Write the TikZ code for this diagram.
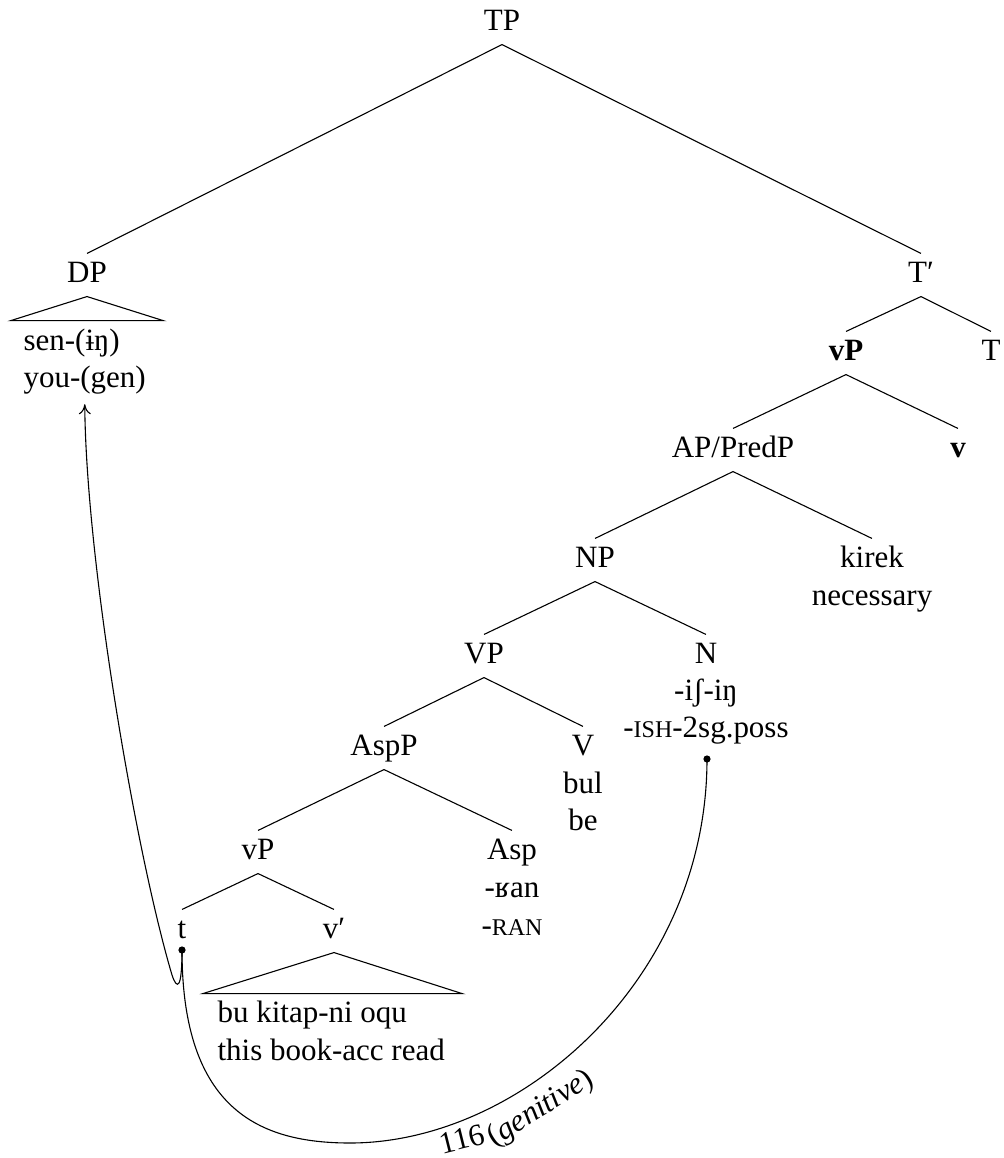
\documentclass[tikz,border=0pt]{standalone}
\usepackage{fontspec}
\setmainfont{Liberation Serif}
\usetikzlibrary{arrows.meta}
\newcommand\fsc[1]{{\fontsize{12pt}{14pt}\selectfont #1}}
\begin{document}
\begin{tikzpicture}[x=0.5pt,y=-0.5pt,line width=0.55pt,
  every node/.append style={font=\fontsize{15.5pt}{18.5pt}\selectfont},
  cat/.style={anchor=base,text height=10.5pt,text depth=3.5pt,inner sep=3.5pt},
  gl/.style={anchor=base,inner sep=0pt},
  dot/.style={circle,fill,inner sep=0pt,minimum size=3.6pt}]
\useasboundingbox (0,0) rectangle (1003,1158);
\node[cat] (tp) at (502,30) {TP};
\node[cat] (dp) at (87,282) {DP};
\node[cat] (tbar) at (921,282) {T′};
\node[gl,anchor=base west] (sen) at (23,350) {sen-(ɨŋ)};
\node[gl,anchor=base west] (you) at (23,387) {you-(gen)};
\node[cat] (vpbig) at (846,360) {\textbf{vP}};
\node[cat] (thead) at (991,360) {T};
\node[cat] (ap) at (733,457) {AP/PredP};
\node[cat] (vbig) at (958,457) {\textbf{v}};
\node[cat] (np) at (595,567) {NP};
\node[cat] (kirek) at (872,567) {kirek};
\node[gl] (necessary) at (872,605) {necessary};
\node[cat] (vp) at (484,663) {VP};
\node[cat] (n) at (706,663) {N};
\node[gl] (ish) at (706,700) {-iʃ-iŋ};
\node[gl] (poss) at (706,737) {-\fsc{ISH}-2sg.poss};
\node[cat] (aspp) at (384,755) {AspP};
\node[cat] (v) at (583,755) {V};
\node[gl] (bul) at (583,793) {bul};
\node[gl] (be) at (583,830) {be};
\node[cat] (vpsmall) at (258,859) {vP};
\node[cat] (asp) at (512,859) {Asp};
\node[gl] (ran) at (512,897) {-ʁan};
\node[gl] (rangl) at (512,935) {-\fsc{RAN}};
\node[cat] (trace) at (182,938) {t};
\node[cat] (vbar) at (334,938) {v′};
\node[gl,anchor=base west] (bu) at (217,1022) {bu kitap-ni oqu};
\node[gl,anchor=base west] (book) at (217,1060) {this book-acc read};
\node[dot] (tdot) at (182,950) {};
\node[dot] (ndot) at (707,759) {};
\foreach \a/\b in {tp/dp,tp/tbar,tbar/vpbig,tbar/thead,vpbig/ap,vpbig/vbig,ap/np,ap/kirek,np/vp,np/n,vp/aspp,vp/v,aspp/vpsmall,aspp/asp,vpsmall/trace,vpsmall/vbar}
  \draw (\a.south) -- (\b.north);
\draw (dp.south) -- ++(-76,24) -- ++(152,0) -- cycle;
\draw (vbar.south) -- ++(-131,41) -- ++(259,0) -- cycle;
% movement of the possessor
\draw[-{To[length=5pt,width=6pt]},shorten >=5pt] (tdot.center) .. controls (182,990) and (177,990) .. (172,975) .. controls (135,850) and (86,560) .. (you.south);
\draw (tdot.center) .. controls (182,1110) and (260,1143) .. (350,1143) .. controls (520,1143) and (707,980) .. (ndot.center);
\node[rotate=14,inner sep=0pt] (genno) at (462,1139) {116};
\node[rotate=32,inner sep=0pt] (genlbl) at (541,1109) {(\textit{genitive})};
\end{tikzpicture}
\end{document}
